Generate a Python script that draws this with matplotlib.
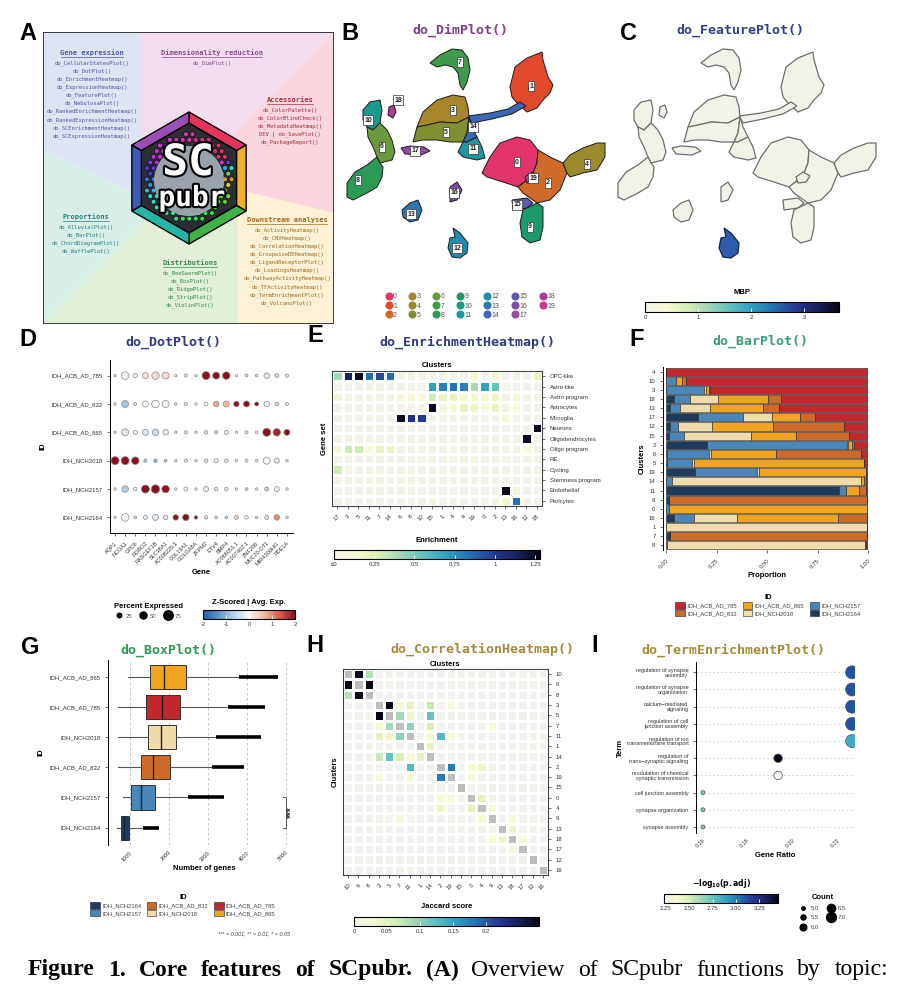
import numpy as np
import matplotlib
matplotlib.use("Agg")
import matplotlib.pyplot as plt
import matplotlib.colors as mcolors
import matplotlib.patheffects as pe
from matplotlib.patches import Polygon, Rectangle, Circle, Patch
from matplotlib.lines import Line2D

plt.rcParams['font.family'] = ['Liberation Sans', 'DejaVu Sans']
plt.rcParams['axes.linewidth'] = 0.7

W, H = 897, 992
fig = plt.figure(figsize=(W / 100, H / 100), dpi=100)


def px_axes(x0, y0, x1, y1):
    return fig.add_axes([x0 / W, 1 - y1 / H, (x1 - x0) / W, (y1 - y0) / H])


def ftext(x, y, s, **kw):
    return fig.text(x / W, 1 - y / H, s, **kw)


# ---------------- data ----------------
# A: function overview
a_titles = ['Gene expression', 'Dimensionality reduction', 'Accessories',
            'Downstream analyses', 'Distributions', 'Proportions']
a_items = [
    ['do_CellularStatesPlot()', 'do_DotPlot()', 'do_EnrichmentHeatmap()', 'do_ExpressionHeatmap()',
     'do_FeaturePlot()', 'do_NebulosaPlot()', 'do_RankedEnrichmentHeatmap()',
     'do_RankedExpressionHeatmap()', 'do_SCEnrichmentHeatmap()', 'do_SCExpressionHeatmap()'],
    ['do_DimPlot()'],
    ['do_ColorPalette()', 'do_ColorBlindCheck()', 'do_MetadataHeatmap()', 'DEV | do_SavePlot()',
     'do_PackageReport()'],
    ['do_ActivityHeatmap()', 'do_CNVHeatmap()', 'do_CorrelationHeatmap()', 'do_GroupwiseDEHeatmap()',
     'do_LigandReceptorPlot()', 'do_LoadingsHeatmap()', 'do_PathwayActivityHeatmap()',
     'do_TFActivityHeatmap()', 'do_TermEnrichmentPlot()', 'do_VolcanoPlot()'],
    ['do_BeeSwarmPlot()', 'do_BoxPlot()', 'do_RidgePlot()', 'do_StripPlot()', 'do_ViolinPlot()'],
    ['do_AlluvialPlot()', 'do_BarPlot()', 'do_ChordDiagramPlot()', 'do_WafflePlot()'],
]

# B / C: UMAP clusters
cluster_colors = ['#e2346b', '#e2492b', '#cf6a2b', '#a8862b', '#9a8b2e', '#7f8f32', '#6b9a3e',
                  '#3f9a4b', '#2a9a55', '#1c9a6c', '#1a9a8a', '#1c98a2', '#1f8bb0', '#2b79b4',
                  '#3b67b6', '#5e57b0', '#7d4caa', '#954aa2', '#ad3f93', '#c63a82']
outline_ids = [7, 1, 14, 3, 5, 14, 11, 10, 6, 8, 18, 17, 0, 2, 4, 19, 15, 9, 16, 13, 12]
outline_pts = [
    [(430, 63), (440, 55), (452, 49), (462, 50), (468, 58), (470, 70), (467, 82), (463, 90),
     (460, 85), (458, 73), (453, 67), (445, 65), (437, 67)],
    [(510, 87), (515, 67), (527, 58), (542, 52), (543, 60), (548, 77), (553, 85), (550, 93),
     (543, 100), (537, 108), (527, 112), (517, 103), (512, 97)],
    [(468, 116), (490, 113), (508, 109), (520, 102), (526, 106), (512, 114), (492, 119), (472, 123)],
    [(417, 127), (423, 112), (437, 100), (453, 95), (465, 97), (468, 107), (469, 117), (457, 123),
     (440, 122), (427, 125)],
    [(413, 142), (417, 127), (427, 125), (440, 122), (457, 123), (469, 117), (467, 133), (463, 142),
     (450, 142), (437, 140), (423, 140)],
    [(469, 117), (472, 127), (477, 137), (467, 142), (463, 142), (467, 133)],
    [(463, 142), (467, 142), (477, 137), (482, 147), (485, 158), (477, 160), (463, 157), (458, 152)],
    [(363, 110), (370, 102), (380, 100), (382, 110), (380, 123), (373, 130), (367, 127), (363, 120)],
    [(367, 127), (373, 130), (380, 123), (387, 130), (392, 140), (395, 152), (392, 160), (380, 163),
     (377, 157), (373, 147), (368, 137)],
    [(377, 157), (380, 163), (383, 167), (382, 177), (377, 187), (367, 193), (353, 200), (347, 197),
     (347, 183), (355, 172), (367, 165)],
    [(389, 107), (394, 105), (396, 112), (393, 118), (388, 115)],
    [(401, 148), (410, 146), (424, 147), (430, 151), (421, 155), (405, 154)],
    [(482, 173), (490, 157), (500, 143), (517, 137), (530, 140), (538, 150), (537, 163), (533, 173),
     (527, 180), (518, 187), (503, 182), (487, 177)],
    [(538, 150), (550, 157), (563, 163), (567, 173), (560, 190), (550, 200), (537, 203), (523, 193),
     (518, 187), (527, 180), (533, 173), (537, 163)],
    [(563, 163), (570, 155), (583, 148), (597, 143), (605, 143), (605, 157), (597, 170), (583, 173),
     (570, 177), (567, 173)],
    [(525, 177), (532, 172), (539, 176), (535, 182), (527, 183)],
    [(512, 200), (527, 198), (533, 203), (527, 208), (513, 210)],
    [(523, 210), (537, 203), (543, 207), (543, 227), (540, 240), (530, 243), (522, 237), (520, 223)],
    [(450, 187), (457, 182), (462, 190), (457, 200), (450, 202)],
    [(402, 210), (410, 203), (418, 200), (422, 210), (418, 220), (410, 222), (403, 217)],
    [(453, 228), (460, 233), (468, 243), (467, 253), (460, 258), (452, 257), (448, 248), (450, 238),
     (455, 237)],
]
label_x = [517, 531, 548, 453, 587, 446, 382, 460, 358, 530, 368, 473, 457, 411, 473, 517, 454, 415, 398, 533]
label_y = [162, 86, 183, 110, 164, 132, 147, 62, 180, 227, 120, 149, 248, 214, 127, 205, 193, 151, 100, 178]
mbp_cluster = 12

# D: dot plot
dot_ids = ['IDH_ACB_AD_785', 'IDH_ACB_AD_832', 'IDH_ACB_AD_865', 'IDH_NCH2018', 'IDH_NCH2157', 'IDH_NCH2164']
dot_genes = ['AQP1', 'NCOA1', 'GPC6', 'ROBO2', 'RASGEF1B', 'SLC38A1', 'AC008229.3', 'COL19A1',
             'GOLGA8A', 'ZFPM2', 'ETV4', 'BMP4', 'AC068051.1', 'AC007402.1', 'ZNF208',
             'MUC20-OT1', 'MIR4300HG', 'PDE1A']
dot_pct = [
    [5, 55, 20, 40, 55, 50, 5, 12, 5, 60, 50, 55, 5, 8, 5, 35, 20, 12],
    [5, 50, 10, 40, 55, 50, 5, 12, 5, 20, 35, 40, 35, 40, 20, 35, 15, 10],
    [5, 50, 20, 40, 45, 35, 5, 12, 5, 15, 12, 20, 5, 10, 5, 60, 55, 40],
    [60, 60, 55, 12, 15, 10, 5, 12, 5, 15, 20, 15, 5, 10, 5, 50, 30, 5],
    [5, 45, 15, 60, 65, 55, 5, 20, 5, 30, 15, 15, 5, 8, 5, 20, 30, 5],
    [5, 55, 8, 20, 40, 25, 35, 45, 15, 15, 8, 8, 20, 15, 5, 20, 35, 5],
]
dot_z = [
    [-0.3, 0, 0, 0.2, 0.3, 0.3, -0.2, -0.3, -0.2, 2, 2, 2, 0, -0.3, -0.2, -0.3, -0.5, -0.2],
    [-0.2, -0.8, -0.3, 0, 0, 0, -0.2, -0.3, -0.2, 0, 0.8, 0.7, 2, 2, 2, -0.1, -0.5, -0.2],
    [-0.2, -0.3, 0, -0.3, -0.5, -0.2, -0.2, -0.3, -0.2, -0.3, -0.5, -0.2, -0.2, -0.3, -0.2, 2, 1.8, 2],
    [2, 2, 2, -0.8, -1, -0.8, -0.2, -0.3, -0.2, -0.3, 0, -0.2, -0.2, -0.3, -0.2, 0, -0.2, -0.2],
    [-0.2, -0.7, 0, 2, 2, 2, -0.2, 0, -0.2, -0.1, -0.3, -0.3, -0.2, -0.5, -0.2, -0.6, -0.1, -0.2],
    [-0.2, 0, -0.3, -0.2, -0.2, -0.3, 2, 2, 2, -0.3, -0.5, -0.5, 0.4, 0, -0.2, -0.3, 1, -0.2],
]
pct_legend = [25, 50, 75]

# E: enrichment heatmap
enr_rows = ['OPC-like', 'Astro-like', 'Astro program', 'Astrocytes', 'Microglia', 'Neurons',
            'Oligodendrocytes', 'Oligo program', 'RE', 'Cycling', 'Stemness program',
            'Endothelial', 'Pericytes']
enr_cols = ['17', '3', '5', '11', '7', '14', '6', '8', '10', '15', '1', '4', '9', '19', '0', '2',
            '13', '16', '12', '18']
enr_vals = [
    [0.40, 1.15, 1.25, 0.85, 0.95, 0.85, 0.02, 0.02, 0.02, 0.02, 0.02, 0.02, 0.02, 0.15, 0.02, 0.12, 0.02, 0.02, 0.02, 0.20],
    [0.02, 0.02, 0.02, 0.02, 0.02, 0.02, 0.02, 0.02, 0.02, 0.70, 0.80, 0.85, 0.80, 0.40, 0.70, 0.55, 0.02, 0.02, 0.02, 0.02],
    [0.08, 0.04, 0.04, 0.04, 0.04, 0.04, 0.10, 0.15, 0.10, 0.30, 0.20, 0.20, 0.15, 0.15, 0.10, 0.18, 0.04, 0.12, 0.03, 0.03],
    [0.02, 0.02, 0.02, 0.02, 0.02, 0.02, 0.02, 0.02, 0.02, 1.25, 0.05, 0.12, 0.20, 0.20, 0.10, 0.20, 0.05, 0.12, 0.02, 0.02],
    [0.02, 0.02, 0.02, 0.02, 0.02, 0.02, 1.25, 1.05, 1.00, 0.02, 0.02, 0.02, 0.02, 0.02, 0.02, 0.02, 0.12, 0.02, 0.02, 0.02],
    [0.02, 0.02, 0.02, 0.02, 0.02, 0.02, 0.02, 0.02, 0.02, 0.02, 0.02, 0.02, 0.02, 0.02, 0.02, 0.02, 0.02, 0.02, 0.02, 1.25],
    [0.02, 0.02, 0.02, 0.02, 0.02, 0.02, 0.02, 0.02, 0.02, 0.02, 0.02, 0.02, 0.02, 0.02, 0.02, 0.02, 0.02, 0.02, 1.25, 0.02],
    [0.10, 0.30, 0.30, 0.12, 0.20, 0.20, 0.03, 0.03, 0.03, 0.03, 0.03, 0.03, 0.03, 0.03, 0.03, 0.03, 0.03, 0.03, 0.10, 0.03],
    [0.03, 0.03, 0.03, 0.03, 0.03, 0.03, 0.05, 0.03, 0.03, 0.05, 0.03, 0.03, 0.03, 0.06, 0.03, 0.03, 0.03, 0.03, 0.03, 0.03],
    [0.30, 0.02, 0.02, 0.02, 0.02, 0.02, 0.02, 0.02, 0.02, 0.02, 0.02, 0.02, 0.02, 0.02, 0.02, 0.02, 0.02, 0.02, 0.02, 0.02],
    [0.04, 0.04, 0.04, 0.04, 0.04, 0.04, 0.04, 0.04, 0.04, 0.04, 0.04, 0.04, 0.04, 0.04, 0.04, 0.04, 0.04, 0.04, 0.04, 0.04],
    [0.02, 0.02, 0.02, 0.02, 0.02, 0.02, 0.02, 0.02, 0.02, 0.02, 0.02, 0.02, 0.02, 0.02, 0.02, 0.02, 1.25, 0.10, 0.02, 0.02],
    [0.02, 0.02, 0.02, 0.02, 0.02, 0.02, 0.02, 0.02, 0.02, 0.10, 0.02, 0.02, 0.02, 0.02, 0.02, 0.02, 0.15, 0.85, 0.02, 0.02],
]

# F: bar plot (proportion of each ID per cluster)
bar_clusters = ['4', '10', '3', '18', '13', '17', '12', '15', '2', '6', '5', '19', '14', '11', '9',
                '0', '16', '1', '7', '8']
bar_2164 = [0, 0, 0, 0.04, 0.02, 0.16, 0.02, 0.015, 0.205, 0.005, 0.005, 0.145, 0, 0.857, 0.013, 0, 0.04, 0, 0.02, 0.005]
bar_2157 = [0, 0.05, 0.19, 0.08, 0.05, 0.22, 0.04, 0.075, 0.69, 0.21, 0.125, 0.305, 0.03, 0.033, 0, 0.013, 0.1, 0, 0, 0]
bar_2018 = [0, 0, 0.01, 0.135, 0.15, 0.145, 0.17, 0.33, 0.005, 0.01, 0.01, 0.01, 0.935, 0.003, 0, 0, 0.21, 0.995, 0, 0.98]
bar_865 = [0, 0.03, 0.015, 0.25, 0.26, 0.14, 0.30, 0.225, 0.02, 0.32, 0.84, 0.53, 0.015, 0.06, 0, 0.982, 0.5, 0, 0, 0]
bar_832 = [0, 0.02, 0.005, 0.065, 0.08, 0.075, 0.35, 0.26, 0.01, 0.42, 0, 0, 0.01, 0.035, 0.982, 0.005, 0.145, 0, 0.975, 0.005]
bar_785 = [1.0, 0.90, 0.78, 0.43, 0.44, 0.26, 0.12, 0.095, 0.07, 0.035, 0.02, 0.01, 0.01, 0.012, 0.005, 0, 0.005, 0.005, 0.005, 0.01]

id_colors = {'IDH_ACB_AD_785': '#c1272d', 'IDH_ACB_AD_832': '#cd6a27', 'IDH_ACB_AD_865': '#f2a31f',
             'IDH_NCH2018': '#efdcaa', 'IDH_NCH2157': '#4a86b8', 'IDH_NCH2164': '#1d3a5f'}

# G: box plot (number of genes)
box_ids = ['IDH_ACB_AD_865', 'IDH_ACB_AD_785', 'IDH_NCH2018', 'IDH_ACB_AD_832', 'IDH_NCH2157', 'IDH_NCH2164']
box_low = [957, 702, 702, 702, 813, 660]
box_q1 = [1511, 1426, 1468, 1281, 1043, 762]
box_med = [1877, 1826, 1791, 1596, 1281, 855]
box_q3 = [2447, 2277, 2174, 2021, 1638, 983]
box_high = [3809, 3511, 3213, 3102, 2489, 1340]
box_outmax = [4813, 4472, 4362, 3936, 3426, 1749]

# H: correlation heatmap (Jaccard)
corr_labels = ['10', '6', '8', '3', '5', '7', '11', '1', '14', '2', '19', '15', '0', '4', '9', '13',
               '18', '17', '12', '16']
pair_a = ['10', '10', '6', '3', '3', '3', '3', '3', '5', '5', '5', '7', '7', '7', '11', '11', '11',
          '11', '1', '2', '2', '2', '19', '0', '4', '9', '9', '13', '18', '11']
pair_b = ['6', '8', '8', '5', '7', '11', '14', '19', '7', '11', '14', '11', '14', '9', '14', '2', '19',
          '16', '14', '19', '0', '4', '0', '4', '9', '18', '4', '18', '17', '5']
pair_v = [0.28, 0.08, 0.28, 0.28, 0.03, 0.05, 0.07, 0.02, 0.09, 0.04, 0.12, 0.10, 0.06, 0.02, 0.03,
          0.13, 0.03, 0.01, 0.05, 0.18, 0.03, 0.04, 0.02, 0.05, 0.09, 0.03, 0.03, 0.04, 0.02, 0.04]

# I: term enrichment
terms = ['regulation of synapse\nassembly', 'regulation of synapse\norganization',
         'calcium−mediated\nsignaling', 'regulation of cell\njunction assembly',
         'regulation of ion\ntransmembrane transport', 'regulation of\ntrans−synaptic signaling',
         'modulation of chemical\nsynaptic transmission', 'cell junction assembly',
         'synapse organization', 'synapse assembly']
gene_ratio = [0.2267, 0.2267, 0.2267, 0.2267, 0.2267, 0.1938, 0.1938, 0.1604, 0.1604, 0.1604]
term_count = [7, 7, 7, 7, 7, 6, 6, 5, 5, 5]
term_logp = [3.12, 3.12, 3.12, 3.12, 2.85, 3.45, 2.25, 2.72, 2.72, 2.72]
count_legend = [5.0, 5.5, 6.0, 6.5, 7.0]

# ---------------- styles ----------------
ylgnbu = mcolors.LinearSegmentedColormap.from_list(
    'ylgnbu_ext', ['#f2f2ee', '#f7f8cf', '#d5eeb3', '#9bd6b8', '#5bbfc0', '#2c9fc1', '#2170b2',
                   '#253a96', '#18205e', '#070716'])
rdbu = mcolors.LinearSegmentedColormap.from_list(
    'rdbu_s', ['#1f5fa8', '#5a94c8', '#b7d3e8', '#f7f7f7', '#f4b79c', '#d6604d', '#8b0f1f'])
TITLE = dict(family='DejaVu Sans Mono', fontweight='bold', fontsize=9.5, ha='center', va='center')
PLAB = dict(fontsize=17, fontweight='bold', ha='center', va='center')
TICK = '#333333'


def hbar(x0, y0, x1, y1, cmap, norm, ticks, labels, title, title_y):
    cax = px_axes(x0, y0, x1, y1)
    cb = fig.colorbar(plt.cm.ScalarMappable(norm=norm, cmap=cmap), cax=cax, orientation='horizontal')
    cb.set_ticks(ticks)
    cb.set_ticklabels(labels)
    cax.tick_params(direction='in', length=3, width=0.6, color='white', labelcolor=TICK,
                    labelsize=4.3, pad=2)
    cb.outline.set_linewidth(0.8)
    cb.outline.set_edgecolor('black')
    ftext((x0 + x1) / 2, title_y, title, fontsize=5.5, fontweight='bold', ha='center', va='center')


def style_axis(ax):
    for s in ['top', 'right']:
        ax.spines[s].set_visible(False)
    ax.tick_params(labelsize=4.3, colors=TICK, length=2, width=0.5)


# ---------------- panel A ----------------
ftext(28, 33, 'A', **PLAB)
axA = px_axes(43, 32, 334, 324)
axA.set_xlim(0, 291)
axA.set_ylim(292, 0)
axA.axis('off')
a_regions = [
    [(0, 0), (99, 0), (99, 110), (146, 146), (89, 160), (0, 118)],
    [(99, 0), (291, 0), (146, 146), (99, 110)],
    [(291, 0), (291, 181), (146, 146)],
    [(291, 181), (291, 292), (195, 292), (195, 146), (146, 146)],
    [(195, 292), (0, 292), (146, 146), (195, 146)],
    [(0, 292), (0, 118), (89, 160), (146, 146)],
]
a_fill = ['#dfe4f5', '#f3ddee', '#fbd6de', '#fdf2d6', '#e1f0d6', '#d8efe8']
a_text = ['#4b5a9e', '#8a4a8c', '#a3303f', '#a06a22', '#3a8a4a', '#2a8080']
a_pos = [(49, 21), (169, 21), (247, 68), (244, 188), (147, 231), (43, 185)]
for verts, fc in zip(a_regions, a_fill):
    axA.add_patch(Polygon(verts, closed=True, fc=fc, ec='none'))
axA.add_patch(Rectangle((0, 0), 291, 292, fill=False, ec='#3a3a3a', lw=1.4))
for title, items, col, (cx, ty) in zip(a_titles, a_items, a_text, a_pos):
    axA.text(cx, ty, title, family='DejaVu Sans Mono', fontweight='bold', fontsize=5,
             color=col, ha='center', va='center')
    tw = len(title) * 0.602 * 5 * 100 / 72
    axA.plot([cx - tw / 2, cx + tw / 2], [ty + 4, ty + 4], color=col, lw=0.5)
    for k, it in enumerate(items):
        axA.text(cx, ty + 10 + 8.1 * k, it, family='DejaVu Sans Mono', fontsize=4,
                 color=col, ha='center', va='center')

# hexagon logo
cx, cy, R = 146, 146, 66
ang = np.deg2rad([90, 30, -30, -90, -150, 150])
outer = [(cx + R * np.cos(a), cy - R * np.sin(a)) for a in ang]
Rin = R - 11
inner = [(cx + Rin * np.cos(a), cy - Rin * np.sin(a)) for a in ang]
edge_cols = ['#e6335c', '#f0b02c', '#3fb24a', '#25b5a5', '#3b5bb5', '#9b4fb5']
axA.add_patch(Polygon(inner, closed=True, fc='#2b2f33', ec='black', lw=1.0))
for i in range(6):
    j = (i + 1) % 6
    axA.add_patch(Polygon([outer[i], outer[j], inner[j], inner[i]], closed=True,
                          fc=edge_cols[i], ec='black', lw=1.0))
# honeycomb mesh inside the logo
step = 6.5
for gy in np.arange(-Rin, Rin + 1, step * 0.866):
    row = int(round(gy / (step * 0.866)))
    for gx in np.arange(-Rin, Rin + 1, step):
        px = gx + (step / 2 if row % 2 else 0)
        r = np.hypot(px, gy)
        if r > Rin * 0.8 or r < 33:
            continue
        theta = (30 - np.degrees(np.arctan2(-gy, px))) % 360
        hue = np.interp(theta, [0, 30, 60, 180, 210, 240, 360], [0.97, 0.09, 0.3, 0.48, 0.62, 0.8, 0.97])
        axA.add_patch(Circle((cx + px, cy + gy), 2.4, fc=mcolors.hsv_to_rgb((hue, 0.75, 0.85)),
                             ec='black', lw=0.4))
axA.add_patch(Circle((cx, cy + 3), 35, fc='#9aa3ab', ec='none'))
stroke = [pe.withStroke(linewidth=3, foreground='black')]
axA.text(cx - 1, cy - 15, 'SC', family='DejaVu Sans Mono', fontweight='bold', fontsize=31,
         color='white', ha='center', va='center', path_effects=stroke)
axA.text(cx + 3, cy + 20, 'pubr', family='DejaVu Sans Mono', fontweight='bold', fontsize=20,
         color='white', ha='center', va='center', path_effects=stroke)

# ---------------- panels B & C ----------------
ftext(350, 33, 'B', **PLAB)
ftext(460, 30, 'do_DimPlot()', color='#7b3f8e', **TITLE)
ftext(628, 33, 'C', **PLAB)
ftext(740, 30, 'do_FeaturePlot()', color='#2f3d8a', **TITLE)

axB = px_axes(340, 44, 612, 264)
axC = px_axes(611, 44, 883, 264)
for ax in (axB, axC):
    ax.set_xlim(340, 612)
    ax.set_ylim(264, 44)
    ax.axis('off')
for cid, pts in zip(outline_ids, outline_pts):
    axB.add_patch(Polygon(pts, closed=True, fc=cluster_colors[cid], ec='#1a1a1a', lw=0.7))
    if cid == mbp_cluster:
        axC.add_patch(Polygon(pts, closed=True, fc='#2d5ca8', ec='#15254f', lw=0.9))
    else:
        axC.add_patch(Polygon(pts, closed=True, fc='#f2f2e8', ec='#6e6e6e', lw=0.9))
for cid in range(20):
    axB.text(label_x[cid], label_y[cid], str(cid), fontsize=5, fontweight='bold', ha='center',
             va='center', color='#222',
             bbox=dict(boxstyle='square,pad=0.18', fc='white', ec='#333', lw=0.5))
handles = [Line2D([], [], ls='', marker='o', ms=4.8, mfc=cluster_colors[c], mec=cluster_colors[c],
                  label=str(c)) for c in range(20)]
fig.legend(handles=handles, ncol=7, loc='center', bbox_to_anchor=(470 / W, 1 - 306 / H),
           frameon=False, fontsize=5, labelcolor='#555', handletextpad=0.15, columnspacing=1.7,
           labelspacing=0.3, handlelength=1.0, borderpad=0)
hbar(645, 302, 839, 312, ylgnbu, mcolors.Normalize(0, 3.65), [0, 1, 2, 3], ['0', '1', '2', '3'],
     'MBP', 293)

# ---------------- panel D ----------------
ftext(28, 340, 'D', **PLAB)
ftext(173, 342, 'do_DotPlot()', color='#2e3a7a', **TITLE)
axD = px_axes(110, 360, 293, 533)
style_axis(axD)
gx, gy = np.meshgrid(np.arange(len(dot_genes)), np.arange(len(dot_ids)))
pct = np.array(dot_pct, dtype=float)
diam = 2 + 0.1 * pct
axD.scatter(gx.ravel(), gy.ravel(), s=(diam.ravel() * 0.72) ** 2, c=np.array(dot_z).ravel(),
            cmap=rdbu, vmin=-2, vmax=2, edgecolors='#8a8a8a', linewidths=0.5, zorder=3)
axD.set_xlim(-0.5, 17.6)
axD.set_ylim(5.55, -0.55)
axD.set_xticks(range(len(dot_genes)))
axD.set_xticklabels(dot_genes, rotation=45, ha='right', rotation_mode='anchor', fontsize=4)
axD.set_yticks(range(len(dot_ids)))
axD.set_yticklabels(dot_ids)
axD.set_xlabel('Gene', fontsize=5.5, fontweight='bold', labelpad=2)
axD.set_ylabel('ID', fontsize=5.5, fontweight='bold', labelpad=3)
size_handles = [Line2D([], [], ls='', marker='o', ms=(2 + 0.1 * p) * 0.72, mfc='black', mec='black',
                       label=str(p)) for p in pct_legend]
fig.legend(handles=size_handles, ncol=3, loc='center', bbox_to_anchor=(148 / W, 1 - 611 / H),
           frameon=False, fontsize=4.3, labelcolor='#555', title='Percent Expressed',
           title_fontproperties={'weight': 'bold', 'size': 5.5}, handletextpad=0.5,
           columnspacing=1.3, borderpad=0, handlelength=1.2)
hbar(203, 610, 295, 619, rdbu, mcolors.Normalize(-2, 2), [-2, -1, 0, 1, 2],
     ['-2', '-1', '0', '1', '2'], 'Z-Scored | Avg. Exp.', 602)

# ---------------- panel E ----------------
ftext(315, 336, 'E', **PLAB)
ftext(467, 342, 'do_EnrichmentHeatmap()', color='#2e3a7a', **TITLE)
axE = px_axes(332, 371, 542, 506)
axE.pcolormesh(np.array(enr_vals), cmap=ylgnbu, norm=mcolors.Normalize(0, 1.28),
               edgecolors='white', linewidth=0.8)
axE.set_xlim(0, len(enr_cols))
axE.set_ylim(len(enr_rows), 0)
axE.set_xticks(np.arange(len(enr_cols)) + 0.5)
axE.set_xticklabels(enr_cols, rotation=45, ha='right', rotation_mode='anchor')
axE.set_yticks(np.arange(len(enr_rows)) + 0.5)
axE.set_yticklabels(enr_rows)
axE.yaxis.tick_right()
axE.tick_params(labelsize=4.3, colors=TICK, length=2, width=0.5)
axE.xaxis.set_label_position('top')
axE.set_xlabel('Clusters', fontsize=5.5, fontweight='bold', labelpad=3)
axE.set_ylabel('Gene set', fontsize=5.5, fontweight='bold', labelpad=3)
for s in axE.spines.values():
    s.set_edgecolor('#444')
    s.set_linewidth(0.8)
hbar(334, 550, 540, 559, ylgnbu, mcolors.Normalize(0, 1.28), [0, 0.25, 0.5, 0.75, 1, 1.25],
     ['≤0', '0.25', '0.5', '0.75', '1', '1.25'], 'Enrichment', 540)

# ---------------- panel F ----------------
ftext(637, 340, 'F', **PLAB)
ftext(760, 341, 'do_BarPlot()', color='#3a9d80', **TITLE)
axF = px_axes(666, 367, 868, 550)
style_axis(axF)
ypos = np.arange(len(bar_clusters))
left = np.zeros(len(bar_clusters))
stack = [('IDH_NCH2164', bar_2164), ('IDH_NCH2157', bar_2157), ('IDH_NCH2018', bar_2018),
         ('IDH_ACB_AD_865', bar_865), ('IDH_ACB_AD_832', bar_832), ('IDH_ACB_AD_785', bar_785)]
for name, vals in stack:
    vals = np.array(vals)
    axF.barh(ypos, vals, left=left, height=0.88, color=id_colors[name], edgecolor='#222', lw=0.4)
    left += vals
axF.set_xlim(0, 1.0)
axF.set_ylim(len(bar_clusters) - 0.5, -0.5)
axF.set_yticks(ypos)
axF.set_yticklabels(bar_clusters)
axF.set_xticks([0, 0.25, 0.5, 0.75, 1.0])
axF.set_xticklabels(['0.00', '0.25', '0.50', '0.75', '1.00'], rotation=45, ha='right',
                    rotation_mode='anchor')
axF.spines['bottom'].set_visible(False)
axF.spines['left'].set_position(('outward', 2))
axF.set_xlabel('Proportion', fontsize=5.5, fontweight='bold', labelpad=2)
axF.set_ylabel('Clusters', fontsize=5.5, fontweight='bold', labelpad=2)
f_order = ['IDH_ACB_AD_785', 'IDH_ACB_AD_832', 'IDH_ACB_AD_865', 'IDH_NCH2018', 'IDH_NCH2157', 'IDH_NCH2164']
fig.legend(handles=[Patch(fc=id_colors[n], ec='#222', lw=0.4, label=n) for n in f_order], ncol=3,
           loc='center', bbox_to_anchor=(768 / W, 1 - 605 / H), frameon=False, fontsize=4.2,
           labelcolor='#444', title='ID', title_fontproperties={'weight': 'bold', 'size': 5.5},
           handletextpad=0.4, columnspacing=1.0, labelspacing=0.2, handlelength=1.6,
           handleheight=1.4, borderpad=0)

# ---------------- panel G ----------------
ftext(30, 647, 'G', **PLAB)
ftext(168, 650, 'do_BoxPlot()', color='#2e9a55', **TITLE)
axG = px_axes(108, 660, 300, 845)
style_axis(axG)
axG.spines['bottom'].set_visible(False)
stats = [dict(med=m, q1=a, q3=b, whislo=lo, whishi=hi, label=n)
         for n, lo, a, m, b, hi in zip(box_ids, box_low, box_q1, box_med, box_q3, box_high)]
for xv in [1000, 2000, 3000, 4000, 5000]:
    axG.axvline(xv, color='#bbbbbb', lw=0.6, ls=(0, (3, 3)), zorder=0)
bp = axG.bxp(stats, positions=range(len(box_ids)), orientation='horizontal', widths=0.8,
             patch_artist=True, showfliers=False, showcaps=False,
             boxprops=dict(ec='#333', lw=0.7), whiskerprops=dict(color='#555', lw=0.8),
             medianprops=dict(color='#222', lw=1.0))
for patch, n in zip(bp['boxes'], box_ids):
    patch.set_facecolor(id_colors[n])
axG.hlines(range(len(box_ids)), box_high, box_outmax, color='black', lw=2.6)
axG.set_xlim(440, 5370)
axG.set_ylim(5.58, -0.57)
axG.set_xticks([1000, 2000, 3000, 4000, 5000])
axG.set_xticklabels(['1000', '2000', '3000', '4000', '5000'], rotation=45, ha='right',
                    rotation_mode='anchor', fontsize=4)
axG.tick_params(axis='x', length=0)
axG.set_xlabel('Number of genes', fontsize=5.5, fontweight='bold', labelpad=2)
axG.set_ylabel('ID', fontsize=5.5, fontweight='bold', labelpad=3)
axG.plot([4930, 5010, 5010, 4930], [4, 4, 5, 5], color='#555', lw=0.7)
axG.text(5170, 4.5, '***', rotation=90, ha='center', va='center', fontsize=7, fontweight='bold',
         color='#333')
g_order = ['IDH_NCH2164', 'IDH_NCH2157', 'IDH_ACB_AD_832', 'IDH_NCH2018', 'IDH_ACB_AD_785', 'IDH_ACB_AD_865']
fig.legend(handles=[Patch(fc=id_colors[n], ec='#222', lw=0.4, label=n) for n in g_order], ncol=3,
           loc='center', bbox_to_anchor=(183 / W, 1 - 905 / H), frameon=False, fontsize=4.2,
           labelcolor='#444', title='ID', title_fontproperties={'weight': 'bold', 'size': 5.5},
           handletextpad=0.4, columnspacing=1.0, labelspacing=0.2, handlelength=1.6,
           handleheight=1.4, borderpad=0)
ftext(290, 934, '*** = 0.001, ** = 0.01, * = 0.05', fontsize=4, style='italic', color='#444',
      ha='right', va='center')

# ---------------- panel H ----------------
ftext(315, 645, 'H', **PLAB)
ftext(482, 649, 'do_CorrelationHeatmap()', color='#a68a3a', **TITLE)
axH = px_axes(343, 669, 548, 875)
n = len(corr_labels)
M = np.zeros((n, n))
for a, b, v in zip(pair_a, pair_b, pair_v):
    i, j = corr_labels.index(a), corr_labels.index(b)
    M[i, j] = v
    M[j, i] = v
M[np.arange(n), np.arange(n)] = np.nan
cm_h = ylgnbu.copy()
cm_h.set_bad('#bdbdbd')
axH.pcolormesh(np.ma.masked_invalid(M), cmap=cm_h, norm=mcolors.Normalize(0, 0.28),
               edgecolors='white', linewidth=0.8)
axH.set_xlim(0, n)
axH.set_ylim(n, 0)
axH.set_xticks(np.arange(n) + 0.5)
axH.set_xticklabels(corr_labels, rotation=45, ha='right', rotation_mode='anchor')
axH.set_yticks(np.arange(n) + 0.5)
axH.set_yticklabels(corr_labels)
axH.yaxis.tick_right()
axH.tick_params(labelsize=4.3, colors=TICK, length=2, width=0.5)
axH.xaxis.set_label_position('top')
axH.set_xlabel('Clusters', fontsize=5.5, fontweight='bold', labelpad=2)
axH.set_ylabel('Clusters', fontsize=5.5, fontweight='bold', labelpad=3)
for s in axH.spines.values():
    s.set_edgecolor('#444')
    s.set_linewidth(0.8)
hbar(354, 917, 539, 926, ylgnbu, mcolors.Normalize(0, 0.28), [0, 0.05, 0.1, 0.15, 0.2],
     ['0', '0.05', '0.1', '0.15', '0.2'], 'Jaccard score', 907)

# ---------------- panel I ----------------
ftext(595, 645, 'I', **PLAB)
ftext(733, 650, 'do_TermEnrichmentPlot()', color='#a68a3a', **TITLE)
axI = px_axes(696, 662, 855, 833)
style_axis(axI)
axI.spines['bottom'].set_visible(False)
ty = np.arange(len(terms))
for yv in ty:
    axI.axhline(yv, color='#cccccc', lw=0.6, ls=(0, (2, 3)), zorder=0)
cnt = np.array(term_count, dtype=float)
dpx = 4 + (cnt - 5) * 4.5
axI.scatter(gene_ratio, ty, s=(dpx * 0.72) ** 2, c=term_logp, cmap=ylgnbu,
            norm=mcolors.Normalize(2.23, 3.45), edgecolors='#555', linewidths=0.5, zorder=3)
axI.set_xlim(0.1573, 0.228)
axI.set_ylim(9.35, -0.6)
axI.set_yticks(ty)
axI.set_yticklabels(terms, fontsize=4, linespacing=0.95)
axI.set_xticks([0.16, 0.18, 0.20, 0.22])
axI.set_xticklabels(['0.16', '0.18', '0.20', '0.22'], rotation=45, ha='right', rotation_mode='anchor',
                    fontsize=4)
axI.tick_params(axis='x', length=0)
axI.set_xlabel('Gene Ratio', fontsize=5.5, fontweight='bold', labelpad=2)
axI.set_ylabel('Term', fontsize=5.5, fontweight='bold', labelpad=2)
hbar(664, 894, 778, 903, ylgnbu, mcolors.Normalize(2.23, 3.45), [2.25, 2.5, 2.75, 3.0, 3.25],
     ['2.25', '2.50', '2.75', '3.00', '3.25'], r'$\mathbf{-log_{10}(p.adj)}$', 883)
count_handles = [Line2D([], [], ls='', marker='o', ms=(3.5 + (c - 5) * 3.2) * 0.72, mfc='black',
                        mec='black', label='%.1f' % c) for c in count_legend]
fig.legend(handles=count_handles, ncol=2, loc='upper center', bbox_to_anchor=(823 / W, 1 - 891 / H),
           frameon=False, fontsize=4.3, labelcolor='#444', title='Count',
           title_fontproperties={'weight': 'bold', 'size': 5.5}, handletextpad=0.6,
           columnspacing=1.4, labelspacing=0.75, borderpad=0, handlelength=1.2)

# ---------------- caption (justified) ----------------
cap_words = ['Figure', '1.', 'Core', 'features', 'of', 'SCpubr.', '(A)', 'Overview', 'of', 'SCpubr',
             'functions', 'by', 'topic:']
cap_bold = [True, True, True, True, True, True, True, False, False, False, False, False, False]
renderer = fig.canvas.get_renderer()
objs, widths = [], []
for wd, b in zip(cap_words, cap_bold):
    t = ftext(0, 970, wd, family='Liberation Serif', fontsize=17,
              fontweight='bold' if b else 'normal', ha='left', va='center')
    objs.append(t)
    widths.append(t.get_window_extent(renderer).width)
x_start, x_end = 28, 888
gap = (x_end - x_start - sum(widths)) / (len(widths) - 1)
xc = x_start
for t, wpx in zip(objs, widths):
    t.set_x(xc / W)
    xc += wpx + gap

fig.savefig('out.png', dpi=100, facecolor='white')
